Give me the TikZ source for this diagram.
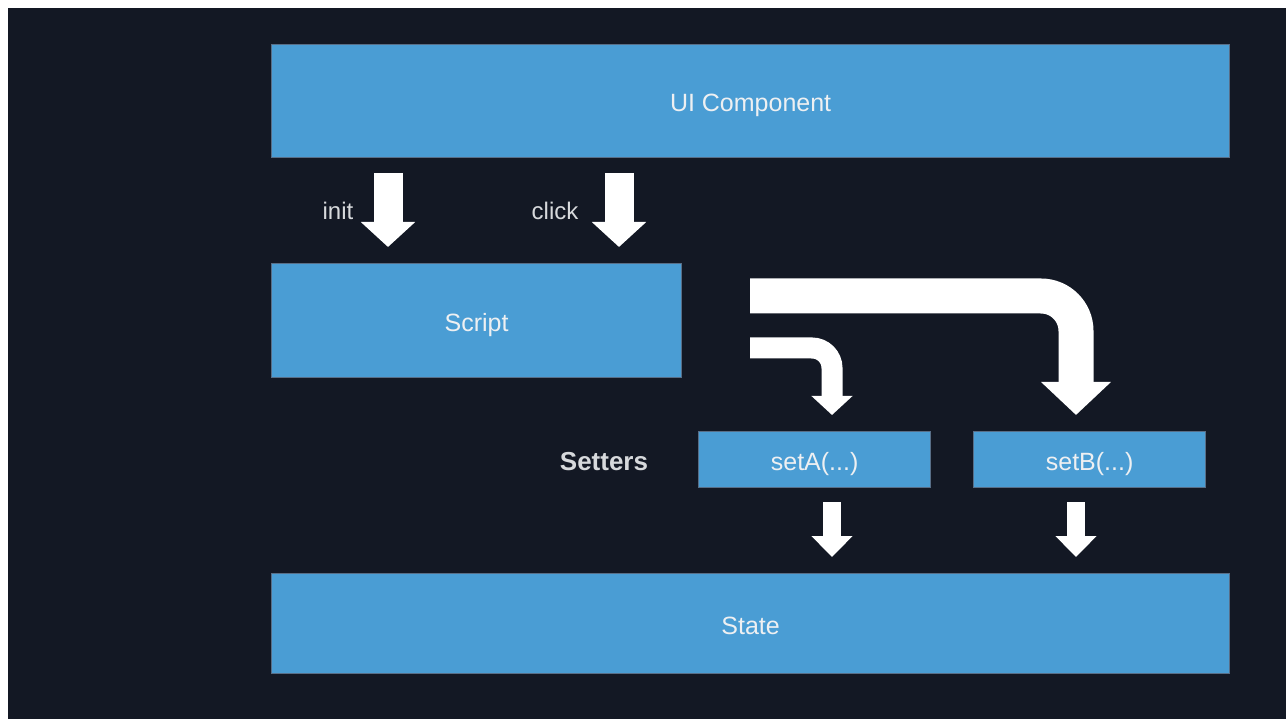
\documentclass[tikz,border=0pt]{standalone}
\usepackage{fontspec}
\setmainfont{Liberation Sans}
\usetikzlibrary{arrows.meta}
\definecolor{bgdark}{RGB}{19,24,36}
\definecolor{boxblue}{RGB}{74,157,212}
\definecolor{boxedge}{RGB}{88,110,135}
\definecolor{txtlight}{RGB}{238,240,242}
\definecolor{lbl}{RGB}{215,217,220}
\begin{document}
\begin{tikzpicture}[x=1pt,y=-1pt,
  bluebox/.style={fill=boxblue,draw=boxedge,line width=1.2pt,anchor=north west,inner sep=0pt,
    text=txtlight,font=\fontsize{25}{29}\selectfont,text height=21pt,text depth=0pt},
  lab/.style={text=lbl,font=\fontsize{24}{28}\selectfont,inner sep=0pt},
  blockarrow/.style={draw=white,line cap=butt,line join=miter}]
\useasboundingbox (0,0) rectangle (1286,719);
\fill[white] (0,0) rectangle (1286,719);
\fill[bgdark] (8,8) rectangle (1286,719);

% boxes
\node[bluebox,minimum width=958pt,minimum height=113pt] (ui) at (271,44) {UI Component};
\node[bluebox,minimum width=410pt,minimum height=114pt] (script) at (271,263) {Script};
\node[bluebox,minimum width=232pt,minimum height=56pt] (setA) at (698,431) {setA(...)};
\node[bluebox,minimum width=232pt,minimum height=56pt] (setB) at (973,431) {setB(...)};
\node[bluebox,minimum width=958pt,minimum height=100pt] (state) at (271,573) {State};

% labels
\node[lab] (init) at (338,211) {init};
\node[lab] (click) at (555,211) {click};
\node[lab,font=\fontsize{26}{30}\selectfont\bfseries] (setters) at (604,462) {Setters};

% arrow coordinates
\coordinate (initS) at (388,173); \coordinate (initE) at (388,247);
\coordinate (clickS) at (619,173); \coordinate (clickE) at (619,247);
\coordinate (bigS) at (750,296); \coordinate (bigE) at (1076,415);
\coordinate (smallS) at (750,348); \coordinate (smallE) at (832,415);
\coordinate (aS) at (832,502); \coordinate (aE) at (832,557);
\coordinate (bS) at (1076,502); \coordinate (bE) at (1076,557);

% arrows
\draw[blockarrow,line width=29pt,-{Triangle[width=53pt,length=25pt]}] (initS) -- (initE);
\draw[blockarrow,line width=29pt,-{Triangle[width=53pt,length=25pt]}] (clickS) -- (clickE);
\draw[blockarrow,line width=35pt,rounded corners=35pt,-{Triangle[width=68pt,length=33pt]}] (bigS) -| (bigE);
\draw[blockarrow,line width=21pt,rounded corners=20pt,-{Triangle[width=40pt,length=19pt]}] (smallS) -| (smallE);
\draw[blockarrow,line width=18pt,-{Triangle[width=40pt,length=21pt]}] (aS) -- (aE);
\draw[blockarrow,line width=18pt,-{Triangle[width=40pt,length=21pt]}] (bS) -- (bE);
\end{tikzpicture}
\end{document}
